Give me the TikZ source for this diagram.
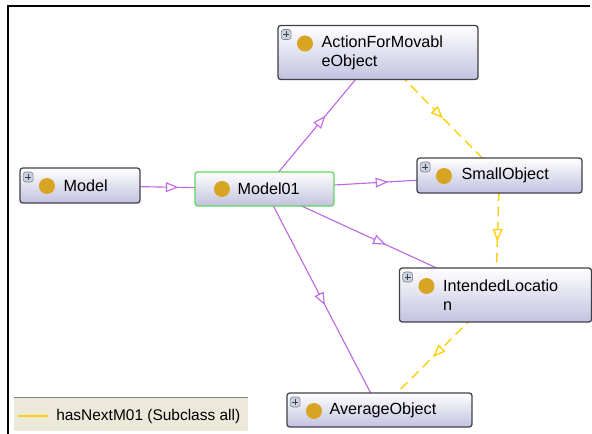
\documentclass[tikz,border=0pt]{standalone}
\usepackage{fontspec}
\setmainfont{Liberation Sans}
\usetikzlibrary{arrows.meta,backgrounds,decorations.markings}
\definecolor{ballgold}{RGB}{216,164,36}
\definecolor{boxlav}{RGB}{194,194,224}
\definecolor{boxedge}{RGB}{64,64,72}
\definecolor{focusgreen}{RGB}{96,214,96}
\definecolor{isapurple}{RGB}{190,104,226}
\definecolor{nextyellow}{RGB}{252,208,16}
\definecolor{legendbg}{RGB}{236,233,218}
\definecolor{plusbg}{RGB}{200,210,226}

\begin{document}
\begin{tikzpicture}[x=0.025cm, y=-0.025cm,
    classbox/.style={rectangle, draw=boxedge, line width=0.9pt, rounded corners=2pt, top color=white, bottom color=boxlav, inner sep=0pt,
        path picture={
            \fill[ballgold] ([xshift=0.675cm,yshift=-0.45cm]path picture bounding box.north west) circle (0.2cm);
            \draw[fill=plusbg, draw=gray, line width=0.4pt] ([xshift=0.08cm,yshift=-0.1cm]path picture bounding box.north west) rectangle ++(0.25cm,-0.25cm);
            \draw[line width=0.6pt] ([xshift=0.205cm,yshift=-0.15cm]path picture bounding box.north west) -- ++(0,-0.15cm)
                ([xshift=0.13cm,yshift=-0.225cm]path picture bounding box.north west) -- ++(0.15cm,0);
        }},
    focusbox/.style={rectangle, draw=focusgreen, line width=0.9pt, rounded corners=2pt, top color=white, bottom color=boxlav, inner sep=0pt,
        path picture={
            \fill[ballgold] ([xshift=0.675cm,yshift=-0.425cm]path picture bounding box.north west) circle (0.2cm);
        }},
    lbl/.style={anchor=west, align=left, inner sep=0pt, font=\fontsize{11.5}{13.5}\selectfont},
    isa/.style={draw=isapurple, line width=0.8pt, postaction={decorate},
        decoration={markings, mark=at position 0.5 with {\arrow[xshift=4.5pt]{Triangle[open, fill=white, color=isapurple, length=9pt, width=7pt]}}}},
    next/.style={draw=nextyellow, line width=1pt, dash pattern=on 7pt off 4pt, postaction={decorate},
        decoration={markings, mark=at position 0.5 with {\pgfsetdash{}{0pt}\arrow[xshift=4.5pt]{Triangle[open, fill=white, color=nextyellow, length=9pt, width=7pt]}}}}
]
    \useasboundingbox (0,0) rectangle (592,434);

    % frame
    \draw[line width=1.4pt] (590,6) -- (8,6) -- (8,434);

    % classes
    \node[classbox, minimum width=3cm, minimum height=0.875cm] (model) at (80,185.5) {};
    \node[focusbox, minimum width=3.475cm, minimum height=0.85cm] (model01) at (264.5,189) {};
    \node[classbox, minimum width=5cm, minimum height=1.35cm] (action) at (378,52.5) {};
    \node[classbox, minimum width=4.125cm, minimum height=0.875cm] (small) at (499.5,175.5) {};
    \node[classbox, minimum width=4.8cm, minimum height=1.35cm] (intended) at (495.5,295) {};
    \node[classbox, minimum width=4.625cm, minimum height=0.85cm] (average) at (379.5,410) {};

    \node[lbl] (modeltext) at ([xshift=1.1cm]model.west) {Model};
    \node[lbl] (model01text) at ([xshift=1.075cm]model01.west) {Model01};
    \node[lbl] (actiontext) at ([xshift=1.1cm]action.west) {ActionForMovabl\\eObject};
    \node[lbl] (smalltext) at ([xshift=1.125cm]small.west) {SmallObject};
    \node[lbl] (intendedtext) at ([xshift=1.1cm]intended.west) {IntendedLocatio\\n};
    \node[lbl] (averagetext) at ([xshift=1.075cm]average.west) {AverageObject};

    % edges behind the boxes
    \begin{scope}[on background layer]
        \draw[isa] (model.center) -- (model01.center);
        \draw[isa] (model01.center) -- (action.center);
        \draw[isa] (model01.center) -- (small.center);
        \draw[isa] (model01.center) -- (intended.center);
        \draw[isa] (model01.center) -- (average.center);
        \draw[next] (action.center) -- (small.center);
        \draw[next] (small.center) -- (intended.center);
        \draw[next] (intended.center) -- (average.center);
    \end{scope}

    % legend
    \fill[legendbg] (14,397) rectangle (248,431);
    \draw[gray, line width=0.6pt] (14,397) -- (248,397);
    \draw[nextyellow, line width=2pt] (18,416) -- (48,416);
    \node[lbl, font=\fontsize{11}{13}\selectfont] (legendtext) at (56,416) {hasNextM01 (Subclass all)};
\end{tikzpicture}
\end{document}
